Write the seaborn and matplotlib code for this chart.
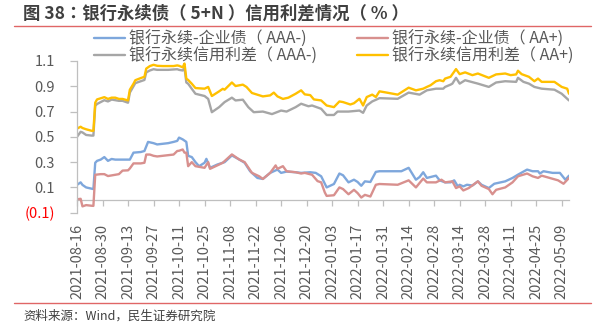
import matplotlib
matplotlib.use("Agg")
import matplotlib.pyplot as plt
import matplotlib.dates as mdates
from matplotlib.lines import Line2D
import seaborn as sns
import pandas as pd

# ---------------- data ----------------
series_names = ["银行永续-企业债（ AAA-)", "银行永续-企业债（ AA+)",
                "银行永续信用利差（ AAA-)", "银行永续信用利差（ AA+)"]

aaa_corp_dates = ["2021-08-16","2021-08-18","2021-08-19","2021-08-21","2021-08-24","2021-08-25","2021-08-26","2021-08-27",
    "2021-08-29","2021-08-31","2021-09-02","2021-09-04","2021-09-06","2021-09-10","2021-09-14","2021-09-16","2021-09-20",
    "2021-09-22","2021-09-24","2021-09-27","2021-09-29","2021-10-02","2021-10-05","2021-10-08","2021-10-10","2021-10-11",
    "2021-10-13","2021-10-15","2021-10-16","2021-10-18","2021-10-20","2021-10-22","2021-10-25","2021-10-26","2021-10-28",
    "2021-11-01","2021-11-05","2021-11-09","2021-11-13","2021-11-16","2021-11-19","2021-11-23","2021-11-26","2021-11-30",
    "2021-12-04","2021-12-06","2021-12-09","2021-12-14","2021-12-17","2021-12-22","2021-12-25","2021-12-28","2021-12-31",
    "2022-01-04","2022-01-07","2022-01-09","2022-01-12","2022-01-15","2022-01-17","2022-01-19","2022-01-21","2022-01-24",
    "2022-01-27","2022-01-29","2022-02-10","2022-02-14","2022-02-18","2022-02-20","2022-02-22","2022-02-24","2022-03-01",
    "2022-03-03","2022-03-06","2022-03-09","2022-03-11","2022-03-13","2022-03-14","2022-03-16","2022-03-18","2022-03-21",
    "2022-03-24","2022-03-26","2022-03-30","2022-04-02","2022-04-08","2022-04-12","2022-04-15","2022-04-20","2022-04-23",
    "2022-04-26","2022-04-27","2022-04-29","2022-05-04","2022-05-08","2022-05-11","2022-05-13"]
aaa_corp_vals = [.12,.14,.12,.10,.09,.087,.295,.31,
    .32,.34,.31,.325,.32,.32,.32,.375,.38,
    .388,.46,.45,.44,.445,.45,.46,.468,.494,
    .48,.46,.35,.34,.30,.268,.295,.326,.255,
    .281,.30,.353,.321,.295,.228,.175,.167,.215,
    .241,.215,.225,.22,.215,.22,.215,.188,.10,
    .127,.21,.196,.14,.161,.143,.113,.148,.143,
    .223,.228,.228,.255,.161,.182,.22,.175,.193,
    .156,.14,.14,.156,.108,.121,.108,.121,.115,
    .148,.121,.095,.129,.148,.175,.201,.241,.228,
    .228,.21,.228,.215,.215,.161,.193]

aa_corp_dates = ["2021-08-16","2021-08-18","2021-08-19","2021-08-21","2021-08-24","2021-08-25","2021-08-26","2021-08-29",
    "2021-08-31","2021-09-02","2021-09-04","2021-09-06","2021-09-08","2021-09-10","2021-09-13","2021-09-14","2021-09-16",
    "2021-09-20","2021-09-22","2021-09-23","2021-09-25","2021-09-27","2021-09-29","2021-10-05","2021-10-08","2021-10-10",
    "2021-10-11","2021-10-13","2021-10-14","2021-10-15","2021-10-16","2021-10-18","2021-10-20","2021-10-25","2021-10-27",
    "2021-10-28","2021-11-02","2021-11-04","2021-11-09","2021-11-13","2021-11-16","2021-11-20","2021-11-24","2021-11-26",
    "2021-11-30","2021-12-03","2021-12-04","2021-12-07","2021-12-09","2021-12-14","2021-12-17","2021-12-19","2021-12-23",
    "2021-12-26","2021-12-28","2021-12-30","2021-12-31","2022-01-04","2022-01-07","2022-01-09","2022-01-12","2022-01-15",
    "2022-01-17","2022-01-19","2022-01-21","2022-01-24","2022-01-27","2022-01-29","2022-02-08","2022-02-14","2022-02-18",
    "2022-02-22","2022-02-24","2022-03-01","2022-03-04","2022-03-06","2022-03-10","2022-03-12","2022-03-14","2022-03-16",
    "2022-03-19","2022-03-24","2022-03-26","2022-03-30","2022-04-01","2022-04-03","2022-04-08","2022-04-12","2022-04-15",
    "2022-04-20","2022-04-23","2022-04-26","2022-04-28","2022-05-07","2022-05-10","2022-05-13"]
aa_corp_vals = [.006,.01,-.05,-.04,-.045,-.046,.20,.205,
    .205,.19,.195,.20,.205,.233,.235,.25,.29,
    .29,.295,.36,.36,.35,.345,.355,.36,.388,
    .39,.40,.375,.375,.268,.30,.268,.255,.30,
    .247,.281,.295,.361,.321,.30,.215,.188,.167,
    .215,.274,.247,.268,.228,.22,.21,.215,.20,
    .15,.14,.06,.033,.038,.10,.087,.046,.081,
    .055,.02,.041,.028,.121,.127,.121,.156,.10,
    .17,.14,.14,.161,.14,.148,.095,.108,.076,
    .095,.148,.113,.087,.046,.081,.10,.14,.188,
    .21,.188,.175,.193,.156,.129,.175]

aaa_spread_dates = ["2021-08-16","2021-08-18","2021-08-19","2021-08-21","2021-08-24","2021-08-25","2021-08-26","2021-08-27",
    "2021-08-29","2021-08-31","2021-09-02","2021-09-04","2021-09-06","2021-09-08","2021-09-10","2021-09-13","2021-09-14",
    "2021-09-16","2021-09-17","2021-09-20","2021-09-22","2021-09-23","2021-09-25","2021-09-27","2021-09-29","2021-10-05",
    "2021-10-10","2021-10-11","2021-10-13","2021-10-14","2021-10-15","2021-10-16","2021-10-18","2021-10-20","2021-10-25",
    "2021-10-27","2021-10-29","2021-11-02","2021-11-05","2021-11-09","2021-11-11","2021-11-15","2021-11-18","2021-11-21",
    "2021-11-26","2021-12-01","2021-12-06","2021-12-09","2021-12-14","2021-12-17","2021-12-21","2021-12-23","2021-12-28",
    "2021-12-31","2022-01-04","2022-01-06","2022-01-12","2022-01-18","2022-01-20","2022-01-22","2022-01-25","2022-01-29",
    "2022-02-08","2022-02-14","2022-02-20","2022-02-24","2022-03-01","2022-03-05","2022-03-06","2022-03-09","2022-03-10",
    "2022-03-12","2022-03-14","2022-03-17","2022-03-24","2022-03-30","2022-04-03","2022-04-08","2022-04-14","2022-04-15",
    "2022-04-18","2022-04-21","2022-04-24","2022-04-28","2022-05-05","2022-05-09","2022-05-13"]
aaa_spread_vals = [.50,.54,.535,.515,.51,.51,.745,.76,
    .775,.79,.78,.795,.79,.785,.785,.77,.85,
    .90,.925,.94,.95,1.01,1.025,1.035,1.03,1.03,
    1.035,1.03,1.025,1.045,.93,.92,.88,.841,.823,
    .80,.695,.735,.775,.81,.788,.794,.735,.695,
    .70,.68,.708,.70,.735,.762,.742,.748,.722,
    .673,.673,.70,.70,.708,.69,.748,.78,.806,
    .801,.85,.834,.868,.881,.881,.895,.913,.921,
    .967,.921,.948,.921,.895,.93,.94,.935,.967,
    .935,.921,.895,.881,.873,.841,.788]

aa_spread_dates = ["2021-08-16","2021-08-18","2021-08-19","2021-08-21","2021-08-24","2021-08-25","2021-08-26","2021-08-27",
    "2021-08-29","2021-08-31","2021-09-02","2021-09-04","2021-09-06","2021-09-08","2021-09-10","2021-09-13","2021-09-14",
    "2021-09-16","2021-09-17","2021-09-20","2021-09-22","2021-09-23","2021-09-25","2021-09-27","2021-09-29","2021-10-02",
    "2021-10-05","2021-10-08","2021-10-10","2021-10-11","2021-10-13","2021-10-14","2021-10-15","2021-10-16","2021-10-18",
    "2021-10-20","2021-10-25","2021-10-27","2021-10-29","2021-11-02","2021-11-04","2021-11-05","2021-11-09","2021-11-11",
    "2021-11-15","2021-11-17","2021-11-20","2021-11-26","2021-11-30","2021-12-02","2021-12-04","2021-12-07","2021-12-10",
    "2021-12-14","2021-12-17","2021-12-19","2021-12-22","2021-12-24","2021-12-28","2021-12-31","2022-01-04","2022-01-07",
    "2022-01-09","2022-01-13","2022-01-15","2022-01-18","2022-01-20","2022-01-22","2022-01-25","2022-01-27","2022-01-29",
    "2022-02-02","2022-02-08","2022-02-14","2022-02-18","2022-02-22","2022-02-24","2022-02-26","2022-03-01","2022-03-03",
    "2022-03-05","2022-03-06","2022-03-09","2022-03-12","2022-03-14","2022-03-17","2022-03-21","2022-03-24","2022-03-30",
    "2022-04-03","2022-04-08","2022-04-11","2022-04-14","2022-04-15","2022-04-17","2022-04-21","2022-04-24","2022-04-26",
    "2022-04-28","2022-05-05","2022-05-09","2022-05-12","2022-05-13"]
aa_spread_vals = [.565,.58,.57,.56,.548,.548,.77,.796,
    .805,.814,.80,.81,.81,.80,.80,.788,.873,
    .92,.948,.965,.975,1.04,1.06,1.07,1.062,1.06,
    1.06,1.06,1.065,1.062,1.05,1.08,.96,.95,.92,
    .886,.881,.895,.823,.86,.88,.873,.93,.902,
    .913,.895,.847,.82,.828,.85,.82,.80,.81,
    .841,.868,.836,.83,.796,.788,.748,.735,.78,
    .775,.756,.766,.801,.748,.815,.834,.815,.86,
    .85,.834,.889,.868,.881,.895,.908,.94,.948,
    .94,.961,.975,1.036,.996,1.01,.988,1.001,.967,
    .994,1.001,.988,.994,1.023,.996,.975,.94,.961,
    .935,.935,.895,.881,.841]

y_ticks = [1.1, 0.9, 0.7, 0.5, 0.3, 0.1, -0.1]
y_tick_labels = ["1.1", "0.9", "0.7", "0.5", "0.3", "0.1", "(0.1)"]
x_ticks = pd.date_range("2021-08-16", "2022-05-09", freq="14D")
x_range = ("2021-08-16", "2022-05-13")

title = "图 38：银行永续债（ 5+N ）信用利差情况（ % ）"
source = "资料来源：Wind，民生证券研究院"
colors = ["#7EA7DC", "#D8908E", "#A6A6A6", "#FFC000"]

# ---------------- styling ----------------
sns.set_theme(style="white")
plt.rcParams["font.family"] = ["Noto Sans CJK SC", "DejaVu Sans"]
plt.rcParams["axes.unicode_minus"] = False

frames = []
for name, d, v in zip(series_names,
                      [aaa_corp_dates, aa_corp_dates, aaa_spread_dates, aa_spread_dates],
                      [aaa_corp_vals, aa_corp_vals, aaa_spread_vals, aa_spread_vals]):
    frames.append(pd.DataFrame({"date": pd.to_datetime(d), "value": v, "series": name}))
df = pd.concat(frames, ignore_index=True)

W, H = 606, 328
fig = plt.figure(figsize=(W / 100, H / 100), dpi=100)
ax = fig.add_axes([77 / W, 1 - 212.7 / H, (569 - 77) / W, (212.7 - 61) / H])

sns.lineplot(data=df, x="date", y="value", hue="series", hue_order=series_names,
             palette=dict(zip(series_names, colors)), linewidth=1.7, ax=ax,
             legend=False, estimator=None, sort=True)

ymin, ymax = -0.1, 1.1
ax.set_ylim(ymin, ymax)
ax.set_xlim(pd.Timestamp(x_range[0]), pd.Timestamp(x_range[1]))
ax.set_xlabel("")
ax.set_ylabel("")

axis_col = "#BFBFBF"
tick_col = "#595959"
for s in ["top", "right", "bottom"]:
    ax.spines[s].set_visible(False)
ax.spines["left"].set_color(axis_col)
ax.spines["left"].set_linewidth(0.9)

ax.set_yticks(y_ticks)
ax.set_yticklabels(y_tick_labels)
ax.tick_params(axis="y", length=5, width=0.9, color=axis_col, direction="out",
               pad=11, labelsize=10.5, labelcolor=tick_col, left=True)
ax.get_yticklabels()[-1].set_color("#FF0000")

ax.set_xticks(x_ticks)
ax.xaxis.set_major_formatter(mdates.DateFormatter("%Y-%m-%d"))
ax.tick_params(axis="x", length=0, pad=8, labelsize=10.5, labelcolor=tick_col, labelrotation=90)
ax.grid(False)

# horizontal category axis crossing at zero
sec = ax.secondary_xaxis((0 - ymin) / (ymax - ymin))
sec.set_xticks(mdates.date2num(x_ticks))
sec.tick_params(axis="x", length=4, width=0.9, color=axis_col, direction="out", labelbottom=False)
sec.spines["bottom"].set_color(axis_col)
sec.spines["bottom"].set_linewidth(0.9)

# legend
h = ax.lines[:4]
fig.legend([h[0], h[2], h[1], h[3]],
           [series_names[0], series_names[2], series_names[1], series_names[3]],
           ncol=2, loc="upper left", bbox_to_anchor=(94 / W, 1 - 30.5 / H),
           frameon=False, fontsize=11.5, handlelength=1.95, handletextpad=0.25,
           columnspacing=2.5, labelspacing=0.0, borderpad=0, borderaxespad=0,
           labelcolor=tick_col)

# title, rules, source
fig.text(23 / W, 1 - 13.5 / H, title, fontsize=12.5, fontweight="bold", color="#404040",
         ha="left", va="center", family=["Noto Sans CJK TC", "DejaVu Sans"])
fig.add_artist(Line2D([14 / W, 591 / W], [1 - 25.7 / H] * 2, color="#E06666", lw=1.0))
fig.add_artist(Line2D([14 / W, 591 / W], [1 - 303 / H] * 2, color="#E06666", lw=1.0))
fig.text(23 / W, 1 - 316 / H, source, fontsize=9, color="#404040", ha="left", va="center")

fig.savefig("out.png", dpi=100)
